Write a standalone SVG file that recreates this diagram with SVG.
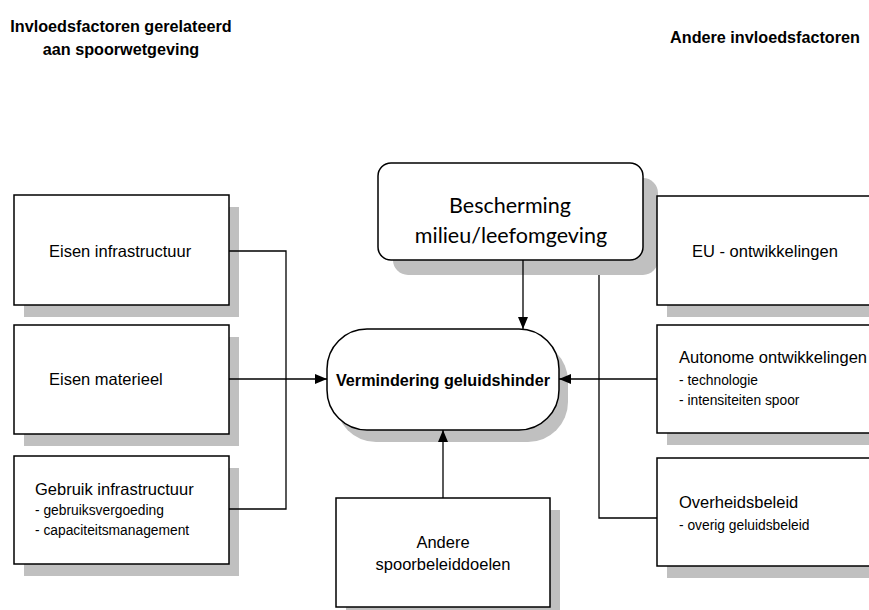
<svg xmlns="http://www.w3.org/2000/svg" width="869" height="610" viewBox="0 0 869 610">
  <style>
    .shadow { fill: #c0c0c0; stroke: none; }
    .box { fill: #ffffff; stroke: #000000; stroke-width: 1.5; }
    .conn { fill: none; stroke: #000000; stroke-width: 1.3; }
    .head { font-family: "Liberation Sans", Arial, sans-serif; font-weight: bold; font-size: 16.2px; fill: #000000; }
    .lbl { font-family: "Liberation Sans", Arial, sans-serif; font-size: 16.5px; fill: #000000; }
    .sub { font-family: "Liberation Sans", Arial, sans-serif; font-size: 13.8px; fill: #000000; }
    .soft { font-family: Lato, "Open Sans", sans-serif; font-size: 21.5px; fill: #000000; }
  </style>
  <defs>
    <marker id="arrow" markerUnits="userSpaceOnUse" markerWidth="12" markerHeight="10" refX="12" refY="5" orient="auto">
      <path d="M0,0 L12,5 L0,10 Z" fill="#000000"/>
    </marker>
  </defs>

  <rect width="869" height="610" fill="#ffffff"/>

  <!-- column headings -->
  <text class="head" x="121" y="32" text-anchor="middle">Invloedsfactoren gerelateerd</text>
  <text class="head" x="121" y="55" text-anchor="middle">aan spoorwetgeving</text>
  <text class="head" x="765" y="43" text-anchor="middle">Andere invloedsfactoren</text>

  <!-- left column -->
  <g id="eisen-infrastructuur">
    <rect class="shadow" x="24" y="207" width="215" height="110"/>
    <rect class="box" x="14" y="195" width="215" height="110"/>
    <text class="lbl" x="49" y="257">Eisen infrastructuur</text>
  </g>
  <g id="eisen-materieel">
    <rect class="shadow" x="24" y="337" width="215" height="109"/>
    <rect class="box" x="14" y="325" width="215" height="109"/>
    <text class="lbl" x="49" y="385">Eisen materieel</text>
  </g>
  <g id="gebruik-infrastructuur">
    <rect class="shadow" x="24" y="468" width="215" height="108"/>
    <rect class="box" x="14" y="456" width="215" height="108"/>
    <text class="lbl" x="35" y="495">Gebruik infrastructuur</text>
    <text class="sub" x="35" y="515">- gebruiksvergoeding</text>
    <text class="sub" x="35" y="535">- capaciteitsmanagement</text>
  </g>

  <!-- top -->
  <g id="bescherming">
    <rect class="shadow" x="393" y="178" width="265" height="97" rx="15"/>
    <rect class="box" x="378" y="163" width="265" height="97" rx="13"/>
    <text class="soft" x="510" y="213" text-anchor="middle">Bescherming</text>
    <text class="soft" x="511" y="243" text-anchor="middle">milieu/leefomgeving</text>
  </g>

  <!-- centre -->
  <g id="vermindering">
    <rect class="shadow" x="336" y="341" width="232" height="101" rx="40"/>
    <rect class="box" x="327" y="329" width="232" height="101" rx="40"/>
    <text class="head" x="443" y="386" text-anchor="middle">Vermindering geluidshinder</text>
  </g>

  <!-- bottom -->
  <g id="andere-spoorbeleiddoelen">
    <rect class="shadow" x="346" y="510" width="214" height="109"/>
    <rect class="box" x="336" y="498" width="214" height="109"/>
    <text class="lbl" x="443" y="548" text-anchor="middle">Andere</text>
    <text class="lbl" x="443" y="570" text-anchor="middle">spoorbeleiddoelen</text>
  </g>

  <!-- right column -->
  <g id="eu-ontwikkelingen">
    <rect class="shadow" x="667" y="208" width="220" height="109"/>
    <rect class="box" x="657" y="196" width="220" height="109"/>
    <text class="lbl" x="692" y="257">EU - ontwikkelingen</text>
  </g>
  <g id="autonome-ontwikkelingen">
    <rect class="shadow" x="667" y="337" width="220" height="108"/>
    <rect class="box" x="657" y="325" width="220" height="108"/>
    <text class="lbl" x="679" y="363">Autonome ontwikkelingen</text>
    <text class="sub" x="679" y="385">- technologie</text>
    <text class="sub" x="679" y="405">- intensiteiten spoor</text>
  </g>
  <g id="overheidsbeleid">
    <rect class="shadow" x="667" y="470" width="220" height="108"/>
    <rect class="box" x="657" y="458" width="220" height="108"/>
    <text class="lbl" x="679" y="508">Overheidsbeleid</text>
    <text class="sub" x="679" y="530">- overig geluidsbeleid</text>
  </g>

  <!-- connectors, drawn over the drop shadows -->
  <g id="connectors">
    <path class="conn" d="M229,251 H286 V509 H229"/>
    <path class="conn" d="M229,379 H327" marker-end="url(#arrow)"/>
    <path class="conn" d="M523,260 V329" marker-end="url(#arrow)"/>
    <path class="conn" d="M599,275 V518 H657"/>
    <path class="conn" d="M657,379 H559" marker-end="url(#arrow)"/>
    <path class="conn" d="M443,498 V430" marker-end="url(#arrow)"/>
  </g>
</svg>
